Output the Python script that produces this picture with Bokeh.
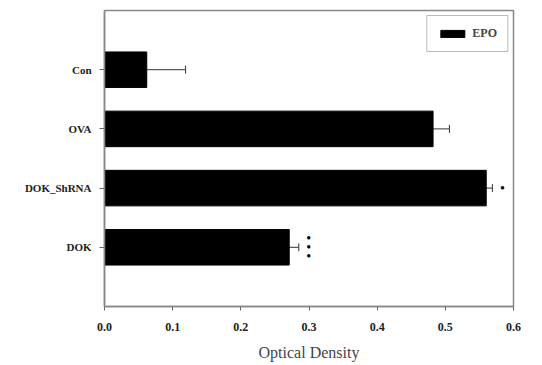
from bokeh.plotting import figure
from bokeh.models import (FactorRange, Range1d, ColumnDataSource, Whisker, TeeHead, FixedTicker,
                          Legend, LegendItem, CustomJSTickFormatter)
from bokeh.core.properties import value
from bokeh.embed import file_html
from bokeh.resources import INLINE

categories = ["DOK", "DOK_ShRNA", "OVA", "Con"]
epo = [0.271, 0.560, 0.482, 0.062]
err = [0.014, 0.009, 0.024, 0.057]
sig_counts = [3, 1, 0, 0]
x_ticks = [0.0, 0.1, 0.2, 0.3, 0.4, 0.5, 0.6]

FONT = "Liberation Serif"

p = figure(width=542, height=365, output_backend="svg", toolbar_location=None,
           y_range=FactorRange(factors=categories, range_padding=0.25),
           x_range=Range1d(0, 0.6),
           min_border_left=104, min_border_right=29, min_border_top=10, min_border_bottom=59)

upper = [v + e for v, e in zip(epo, err)]
src = ColumnDataSource(dict(cat=categories, val=epo, upper=upper))
r = p.hbar(y="cat", right="val", left=0, height=0.6, source=src, fill_color="black", line_color="black")

w = Whisker(base="cat", lower="val", upper="upper", dimension="width", source=src,
            line_color="#333333", line_width=1,
            upper_head=TeeHead(size=8, line_color="#333333", line_width=1), lower_head=None)
p.add_layout(w)

# significance marks placed just right of each error bar
mx, my, moff = [], [], []
for c, u, n in zip(categories, upper, sig_counts):
    for k in range(n):
        mx.append(u)
        my.append(c)
        moff.append((k - (n - 1) / 2) * 9)
msrc = ColumnDataSource(dict(x=mx, y=my, off=moff))
p.text(x="x", y="y", text=value("•"), source=msrc, x_offset=10, y_offset="off",
       text_align="center", text_baseline="middle", text_font=value(FONT), text_font_size="14px",
       text_color="black")

p.xgrid.visible = False
p.ygrid.visible = False
p.outline_line_color = "#888888"
p.outline_line_width = 1.5

p.xaxis.ticker = FixedTicker(ticks=x_ticks)
p.xaxis.formatter = CustomJSTickFormatter(code="return tick.toFixed(1);")
p.xaxis.axis_label = "Optical Density"
p.xaxis.axis_label_text_font = FONT
p.xaxis.axis_label_text_font_style = "normal"
p.xaxis.axis_label_text_font_size = "16px"
p.xaxis.axis_label_standoff = 10
p.xaxis.major_label_text_font = FONT
p.xaxis.major_label_text_font_style = "bold"
p.xaxis.major_label_text_font_size = "12px"
p.xaxis.major_label_standoff = 12
p.xaxis.major_tick_out = 4
p.xaxis.major_tick_in = 0
p.xaxis.minor_tick_out = 0
p.xaxis.minor_tick_in = 0

p.yaxis.major_label_text_font = FONT
p.yaxis.major_label_text_font_style = "bold"
p.yaxis.major_label_text_font_size = "11px"
p.yaxis.major_tick_out = 5
p.yaxis.major_tick_in = 0
p.yaxis.major_label_standoff = 8

for ax in (p.xaxis[0], p.yaxis[0]):
    ax.axis_line_color = "#888888"
    ax.axis_line_width = 1.5
    ax.major_tick_line_color = "#666666"
    ax.major_label_text_color = "#222222"

legend = Legend(items=[LegendItem(label="EPO", renderers=[r])], location="top_right",
                label_text_font=FONT, label_text_font_style="bold", label_text_font_size="12px",
                border_line_color="#777777", border_line_width=1.5, glyph_width=30, glyph_height=9,
                padding=10, margin=5, spacing=0, label_standoff=5)
p.add_layout(legend)

open("out.html", "w").write(file_html(p, INLINE))
